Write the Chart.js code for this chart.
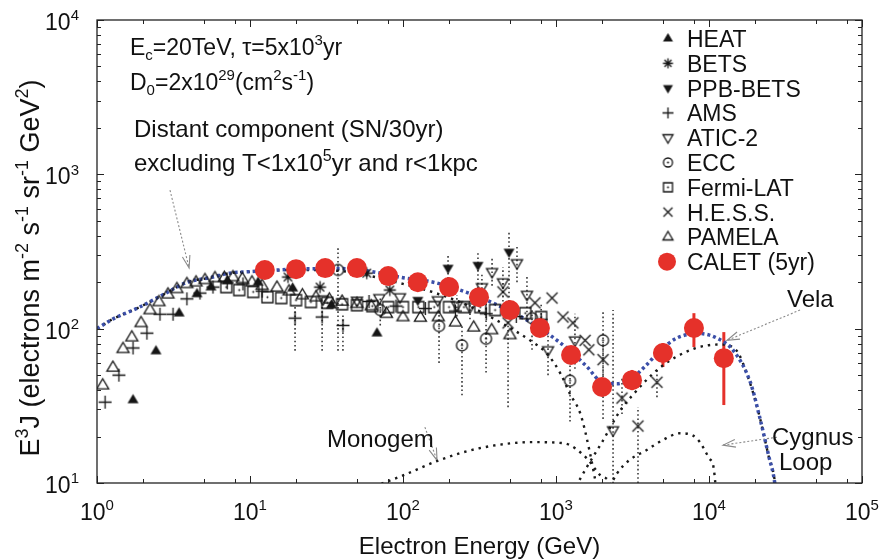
<!DOCTYPE html>
<html>
<head>
<meta charset="utf-8">
<title>Electron spectrum</title>
<script src="https://cdn.jsdelivr.net/npm/chart.js@4.4.1/dist/chart.umd.min.js"></script>
<style>
  html, body { margin: 0; padding: 0; background: #fff; }
  canvas { display: block; }
</style>
</head>
<body>
<canvas id="spectrum" width="883" height="559"></canvas>
<script>
const FONT = "'Liberation Sans', Arial, Helvetica, sans-serif";

// axes
const xTickValues = [1, 10, 100, 1000, 10000, 100000];
const xTickExps = ["0", "1", "2", "3", "4", "5"];
const yTickValues = [10, 100, 1000, 10000];
const yTickExps = ["1", "2", "3", "4"];
const xMinorSteps = [2, 5, 8];
const yMinorSteps = [2, 3, 4, 5, 6, 7, 8, 9];

// measurements (GeV, E^3 J)
const heatE = [1.72, 2.43, 3.44, 4.5, 5.56, 7.1, 11.3, 19, 34, 67.6];
const heatFlux = [34.5, 71.6, 126, 168, 186, 204, 200, 183, 142, 93.5];

const betsE = [17.7, 28.7, 58, 82];
const betsFlux = [216, 186, 229, 178];

const ppbE = [125, 197, 309, 493];
const ppbFlux = [153, 247, 258, 314];
const ppbLo = [null, 186, 151, 132];
const ppbHi = [null, 300, 310, 418];

const amsE = [1.13, 1.39, 1.72, 2.12, 2.58, 3.14, 3.87, 4.71, 5.73, 7.1, 9, 12, 19.7, 29.6, 40.5, 60, 90, 140, 220, 350, 550, 800];
const amsFlux = [33.4, 50, 75, 93.5, 124, 124, 156, 170, 186, 198, 195, 175, 117, 119, 105, 150, 140, 135, 130, 125, 120, 115];
const amsLo = [null, null, null, null, null, null, null, null, null, null, null, null, 72, 72, 72, null, null, null, null, null, null, 90];
const amsHi = [null, null, null, null, null, null, null, null, null, null, null, null, 138, 138, 126, null, null, null, null, null, null, 145];

const aticE = [30, 50, 70, 95.5, 169, 225, 274, 328, 382, 450, 556, 646, 887, 1330, 2360];
const aticFlux = [155, 152, 158, 160, 153, 142, 138, 186, 233, 200, 266, 166, 72.6, 84, 22];
const aticLo = [null, null, null, null, null, 120, 115, 150, 190, 160, 200, 120, 50, 55, 5];
const aticHi = [null, null, null, null, null, 165, 165, 230, 290, 250, 340, 220, 100, 125, 132];

const eccE = [37.6, 71, 172, 243, 349, 697, 1235, 2030];
const eccFlux = [240, 132, 104, 78, 86, 117, 46, 84];
const eccLo = [72, 105, 60, 37, 52, 73, 25, 26];
const eccHi = [339, 160, 135, 104, 152, 135, 70, 132];

const fermiE = [7, 8.5, 10.5, 13, 16, 20, 25, 32, 40, 50, 63, 80, 100, 126, 160, 200, 250, 320, 400, 500, 630, 800];
const fermiFlux = [186, 178, 173, 160, 158, 153, 149, 147, 144, 142, 140, 138, 138, 138, 138, 138, 138, 138, 132, 130, 126, 119];

const hessE = [450, 486, 729, 942, 1111, 1290, 1550, 1640, 2030, 2700, 3435, 4570];
const hessFlux = [173, 109, 147, 158, 119, 109, 84, 73, 63, 35.5, 23.4, 45];
const hessLo = [150, 31, null, null, null, null, null, null, 50, 28, 10, 36];
const hessHi = [200, 146, null, null, null, null, null, null, 80, 48, 31, 54];

const pamelaE = [1.09, 1.27, 1.48, 1.69, 1.94, 2.22, 2.54, 2.91, 3.33, 3.87, 4.44, 5.08, 5.9, 6.8, 7.74, 8.9, 10.3, 12, 15, 18, 22, 27, 33, 40, 50, 62, 78, 100, 130, 170, 220, 290, 380, 500];
const pamelaFlux = [43, 56, 74, 88, 109, 132, 149, 167, 181, 195, 200, 207, 213, 214, 216, 210, 200, 190, 185, 175, 165, 160, 155, 150, 145, 140, 125, 119, 118, 119, 110, 102, 98, 91];

const caletE = [12.5, 20, 31, 50, 80, 125, 200, 314, 500, 785, 1254, 2000, 3140, 5000, 7970, 12500];
const caletFlux = [240, 243, 247, 247, 219, 200, 186, 160, 132, 101, 67.5, 41.9, 46.4, 69.5, 101, 64.4];
const caletLo = [233, 236, 240, 240, 212, 193, 179, 153, 125, 95, 62, 37, 40, 56.4, 76, 32];
const caletHi = [247, 250, 254, 254, 226, 207, 193, 167, 139, 107, 74, 47, 54, 80.7, 126, 95];

// model curves
const totalE = [1, 1.26, 1.9, 2.7, 3.9, 5.5, 7.4, 10, 20, 40, 63, 100, 158, 251, 398, 631, 794, 1000, 1230, 1585, 2000, 2510, 3160, 3890, 4790, 6170, 8710, 11750, 14450, 18620, 21380, 24550, 26900, 27500];
const totalFlux = [100, 115, 138, 166, 200, 214, 229, 234, 243, 245, 234, 214, 200, 174, 145, 115, 100, 85, 72, 57, 45, 44, 48, 58, 72, 87, 93, 85, 72, 45, 27, 15, 10, 8];

const distantE = [1, 1.26, 1.9, 2.7, 3.9, 5.5, 7.4, 10, 20, 40, 63, 100, 158, 251, 398, 676, 871, 1072, 1230, 1445, 1660, 1820, 1900];
const distantFlux = [100, 115, 138, 166, 200, 214, 229, 234, 240, 236, 218, 195, 172, 145, 115, 84, 69, 51, 38, 28, 16, 10, 8];

const monogemE = [65, 100, 174, 316, 708, 1122, 1585, 1950, 2240, 2300];
const monogemFlux = [9.5, 11.2, 14.1, 16.8, 18.4, 18.1, 14.5, 11.2, 10, 9];

const velaE = [1350, 1585, 2000, 2630, 3160, 4790, 7940, 11750, 14800, 18600, 21400, 24500, 27000, 27500];
const velaFlux = [9.5, 12.6, 18.4, 29.5, 37, 56, 74, 79, 74, 44, 27, 15, 10, 8];

const cygnusE = [2250, 2500, 3000, 3890, 5000, 6460, 8300, 10000, 10700, 11000, 11100];
const cygnusFlux = [9.5, 11.5, 14, 16.3, 19, 21, 19.5, 14.5, 12.7, 10, 9];

// annotation arrows: [E, flux] start -> tip
const arrowFrom = [[3.0, 790], [139, 23], [39350, 132], [27800, 19.8]];
const arrowTo = [[4.0, 247], [167, 14], [13120, 84], [12360, 17.6]];

const legendLabels = ["HEAT", "BETS", "PPB-BETS", "AMS", "ATIC-2", "ECC", "Fermi-LAT", "H.E.S.S.", "PAMELA", "CALET (5yr)"];

function pts(xs, ys) {
  return xs.map((x, i) => ({ x: x, y: ys[i] }));
}

function makeMarker(kind, r) {
  const s = 17, m = 8.5;
  const c = document.createElement("canvas");
  c.width = s;
  c.height = s;
  const g = c.getContext("2d");
  g.strokeStyle = "#151515";
  g.fillStyle = "#151515";
  g.lineWidth = 1.3;
  g.beginPath();
  if (kind === "triUp" || kind === "triUpOpen") {
    g.moveTo(m, m - r - 0.5);
    g.lineTo(m + r, m + r * 0.6);
    g.lineTo(m - r, m + r * 0.6);
    g.closePath();
  } else if (kind === "triDown" || kind === "triDownOpen") {
    g.moveTo(m, m + r + 0.5);
    g.lineTo(m + r, m - r * 0.6);
    g.lineTo(m - r, m - r * 0.6);
    g.closePath();
  } else if (kind === "plus") {
    g.moveTo(m - r - 1, m); g.lineTo(m + r + 1, m);
    g.moveTo(m, m - r - 1); g.lineTo(m, m + r + 1);
  } else if (kind === "cross") {
    g.moveTo(m - r, m - r); g.lineTo(m + r, m + r);
    g.moveTo(m + r, m - r); g.lineTo(m - r, m + r);
  } else if (kind === "star") {
    g.moveTo(m - r, m); g.lineTo(m + r, m);
    g.moveTo(m, m - r); g.lineTo(m, m + r);
    g.moveTo(m - r * 0.7, m - r * 0.7); g.lineTo(m + r * 0.7, m + r * 0.7);
    g.moveTo(m + r * 0.7, m - r * 0.7); g.lineTo(m - r * 0.7, m + r * 0.7);
  } else if (kind === "circDot") {
    g.arc(m, m, r, 0, 2 * Math.PI);
  } else if (kind === "sqDot") {
    g.rect(m - r, m - r, 2 * r, 2 * r);
  }
  if (kind === "triUp" || kind === "triDown") g.fill();
  else g.stroke();
  if (kind === "circDot" || kind === "sqDot") {
    g.beginPath();
    g.arc(m, m, 1, 0, 2 * Math.PI);
    g.fill();
  }
  return c;
}

const markers = {
  heat: makeMarker("triUp", 5.5),
  bets: makeMarker("star", 6),
  ppb: makeMarker("triDown", 5.5),
  ams: makeMarker("plus", 5.5),
  atic: makeMarker("triDownOpen", 5.5),
  ecc: makeMarker("circDot", 5.5),
  fermi: makeMarker("sqDot", 5.5),
  hess: makeMarker("cross", 5.5),
  pamela: makeMarker("triUpOpen", 6),
};
const legendMarkers = [
  makeMarker("triUp", 5), makeMarker("star", 5), makeMarker("triDown", 5), makeMarker("plus", 4.5),
  makeMarker("triDownOpen", 5), makeMarker("circDot", 4.5), makeMarker("sqDot", 4.5),
  makeMarker("cross", 4.5), makeMarker("triUpOpen", 5), null];

const RED = "#e5312a";
const BLUE = "#3b4fa8";
const ERR = "#3a3a3a";

function scatterSet(label, xs, ys, marker, order, lo, hi) {
  return {
    label: label,
    data: pts(xs, ys),
    pointStyle: marker,
    pointRadius: 6,
    showLine: false,
    order: order,
    errLo: lo,
    errHi: hi,
    errColor: ERR,
    errWidth: 1.6,
    errDash: [1.6, 2.6],
  };
}

function curveSet(label, xs, ys, color, width, dash, order) {
  return {
    label: label,
    data: pts(xs, ys),
    showLine: true,
    pointRadius: 0,
    borderColor: color,
    borderWidth: width,
    borderDash: dash,
    borderCapStyle: "butt",
    cubicInterpolationMode: "monotone",
    fill: false,
    order: order,
  };
}

// rich text: parts of [text, mode] where mode "" | "^" | "_"
function richWidth(ctx, parts, size) {
  let w = 0;
  parts.forEach(([t, mode]) => {
    ctx.font = (mode ? Math.round(size * 0.66) : size) + "px " + FONT;
    w += ctx.measureText(t).width;
  });
  return w;
}

function drawRich(ctx, parts, x, y, size, align) {
  let cx = x;
  if (align === "center") cx = x - richWidth(ctx, parts, size) / 2;
  if (align === "right") cx = x - richWidth(ctx, parts, size);
  ctx.textAlign = "left";
  ctx.textBaseline = "alphabetic";
  parts.forEach(([t, mode]) => {
    const s = mode ? Math.round(size * 0.66) : size;
    ctx.font = s + "px " + FONT;
    let dy = 0;
    if (mode === "^") dy = -size * 0.42;
    if (mode === "_") dy = size * 0.22;
    ctx.fillText(t, cx, y + dy);
    cx += ctx.measureText(t).width;
  });
}

const decorations = {
  id: "decorations",
  beforeDatasetsDraw(chart) {
    const { ctx, chartArea: a, scales: { x, y } } = chart;
    ctx.save();
    ctx.beginPath();
    ctx.rect(a.left, a.top, a.right - a.left, a.bottom - a.top);
    ctx.clip();
    chart.data.datasets.forEach((ds) => {
      if (!ds.errLo) return;
      ctx.strokeStyle = ds.errColor;
      ctx.lineWidth = ds.errWidth;
      ctx.setLineDash(ds.errDash);
      ds.data.forEach((p, i) => {
        if (ds.errLo[i] == null) return;
        const px = x.getPixelForValue(p.x);
        ctx.beginPath();
        ctx.moveTo(px, y.getPixelForValue(ds.errLo[i]));
        ctx.lineTo(px, y.getPixelForValue(ds.errHi[i]));
        ctx.stroke();
      });
    });

    // pointer arrows
    ctx.strokeStyle = "#8a8a8a";
    ctx.lineWidth = 1.1;
    arrowFrom.forEach((f, i) => {
      const x0 = x.getPixelForValue(f[0]), y0 = y.getPixelForValue(f[1]);
      const x1 = x.getPixelForValue(arrowTo[i][0]), y1 = y.getPixelForValue(arrowTo[i][1]);
      ctx.setLineDash([2, 2]);
      ctx.beginPath();
      ctx.moveTo(x0, y0);
      ctx.lineTo(x1, y1);
      ctx.stroke();
      const ang = Math.atan2(y0 - y1, x0 - x1);
      ctx.setLineDash([]);
      ctx.beginPath();
      ctx.moveTo(x1 + 13 * Math.cos(ang + 0.3), y1 + 13 * Math.sin(ang + 0.3));
      ctx.lineTo(x1, y1);
      ctx.lineTo(x1 + 13 * Math.cos(ang - 0.3), y1 + 13 * Math.sin(ang - 0.3));
      ctx.stroke();
    });
    ctx.restore();
  },
  afterDraw(chart) {
    const { ctx, chartArea: a, scales: { x, y } } = chart;
    ctx.save();
    ctx.fillStyle = "#111";
    ctx.strokeStyle = "#222";
    ctx.lineWidth = 1.3;
    ctx.setLineDash([]);
    ctx.strokeRect(a.left, a.top, a.right - a.left, a.bottom - a.top);

    // inward ticks on all four sides
    ctx.lineWidth = 1;
    ctx.beginPath();
    xTickValues.forEach((v, k) => {
      const steps = k < xTickValues.length - 1 ? [1].concat(xMinorSteps) : [1];
      steps.forEach((m) => {
        const px = Math.round(x.getPixelForValue(v * m)) + 0.5;
        const len = m === 1 ? 7 : 4;
        ctx.moveTo(px, a.bottom); ctx.lineTo(px, a.bottom - len);
        ctx.moveTo(px, a.top); ctx.lineTo(px, a.top + len);
      });
    });
    yTickValues.forEach((v, k) => {
      const steps = k < yTickValues.length - 1 ? [1].concat(yMinorSteps) : [1];
      steps.forEach((m) => {
        const py = Math.round(y.getPixelForValue(v * m)) + 0.5;
        const len = m === 1 ? 7 : 4;
        ctx.moveTo(a.left, py); ctx.lineTo(a.left + len, py);
        ctx.moveTo(a.right, py); ctx.lineTo(a.right - len, py);
      });
    });
    ctx.stroke();

    // tick labels
    xTickValues.forEach((v, k) => {
      drawRich(ctx, [["10", ""], [xTickExps[k], "^"]], x.getPixelForValue(v), a.bottom + 37, 23, "center");
    });
    yTickValues.forEach((v, k) => {
      drawRich(ctx, [["10", ""], [yTickExps[k], "^"]], a.left - 18, y.getPixelForValue(v) + 10, 23, "right");
    });

    // axis titles
    drawRich(ctx, [["Electron Energy (GeV)", ""]], (a.left + a.right) / 2, 554, 24, "center");
    ctx.save();
    ctx.translate(39, 268);
    ctx.rotate(-Math.PI / 2);
    drawRich(ctx, [["E", ""], ["3", "^"], ["J (electrons m", ""], ["-2", "^"], [" s", ""], ["-1", "^"],
      [" sr", ""], ["-1", "^"], [" GeV", ""], ["2", "^"], [")", ""]], 0, 0, 27, "center");
    ctx.restore();

    // annotations
    drawRich(ctx, [["E", ""], ["c", "_"], ["=20TeV, \u03c4=5x10", ""], ["3", "^"], ["yr", ""]], 130, 55, 23, "left");
    drawRich(ctx, [["D", ""], ["0", "_"], ["=2x10", ""], ["29", "^"], ["(cm", ""], ["2", "^"], ["s", ""], ["-1", "^"], [")", ""]], 130, 90, 23, "left");
    drawRich(ctx, [["Distant component (SN/30yr)", ""]], 134, 137, 24, "left");
    drawRich(ctx, [["excluding T<1x10", ""], ["5", "^"], ["yr and r<1kpc", ""]], 134, 171, 24, "left");
    drawRich(ctx, [["Monogem", ""]], 327, 447, 24, "left");
    drawRich(ctx, [["Vela", ""]], 787, 307, 24, "left");
    drawRich(ctx, [["Cygnus", ""]], 772, 445, 24, "left");
    drawRich(ctx, [["Loop", ""]], 779, 470, 24, "left");

    // legend
    legendLabels.forEach((lab, i) => {
      const base = 47 + i * 24.8;
      const cy = base - 8.5;
      const mk = legendMarkers[i];
      if (mk) {
        ctx.drawImage(mk, 668 - mk.width / 2, cy - mk.height / 2);
      } else {
        ctx.fillStyle = RED;
        ctx.beginPath();
        ctx.arc(667, cy, 9, 0, 2 * Math.PI);
        ctx.fill();
        ctx.fillStyle = "#111";
      }
      drawRich(ctx, [[lab, ""]], 687, base, 23, "left");
    });
    ctx.restore();
  },
};

const caletSet = {
  label: "CALET (5yr)",
  data: pts(caletE, caletFlux),
  pointStyle: "circle",
  pointRadius: 10,
  pointBackgroundColor: RED,
  pointBorderWidth: 0,
  showLine: false,
  order: 0,
  errLo: caletLo,
  errHi: caletHi,
  errColor: RED,
  errWidth: 3,
  errDash: [],
};

new Chart(document.getElementById("spectrum").getContext("2d"), {
  type: "scatter",
  data: {
    datasets: [
      caletSet,
      scatterSet("HEAT", heatE, heatFlux, markers.heat, 1),
      scatterSet("BETS", betsE, betsFlux, markers.bets, 1),
      scatterSet("PPB-BETS", ppbE, ppbFlux, markers.ppb, 1, ppbLo, ppbHi),
      scatterSet("AMS", amsE, amsFlux, markers.ams, 1, amsLo, amsHi),
      scatterSet("ATIC-2", aticE, aticFlux, markers.atic, 1, aticLo, aticHi),
      scatterSet("ECC", eccE, eccFlux, markers.ecc, 1, eccLo, eccHi),
      scatterSet("Fermi-LAT", fermiE, fermiFlux, markers.fermi, 1),
      scatterSet("H.E.S.S.", hessE, hessFlux, markers.hess, 1, hessLo, hessHi),
      scatterSet("PAMELA", pamelaE, pamelaFlux, markers.pamela, 1),
      curveSet("Total", totalE, totalFlux, BLUE, 3.5, [3, 3], 2),
      curveSet("Distant", distantE, distantFlux, "#1a1a1a", 2.4, [2.4, 5], 3),
      curveSet("Monogem", monogemE, monogemFlux, "#1a1a1a", 2.4, [2.4, 5], 3),
      curveSet("Vela", velaE, velaFlux, "#1a1a1a", 2.4, [2.4, 5], 3),
      curveSet("Cygnus Loop", cygnusE, cygnusFlux, "#1a1a1a", 2.4, [2.4, 5], 3),
    ],
  },
  options: {
    responsive: false,
    animation: false,
    layout: { padding: { left: 97, top: 20, right: 21, bottom: 76 } },
    plugins: {
      legend: { display: false },
      tooltip: { enabled: false },
    },
    scales: {
      x: { type: "logarithmic", min: 1, max: 100000, display: false },
      y: { type: "logarithmic", min: 10, max: 10000, display: false },
    },
  },
  plugins: [decorations],
});
</script>
</body>
</html>
